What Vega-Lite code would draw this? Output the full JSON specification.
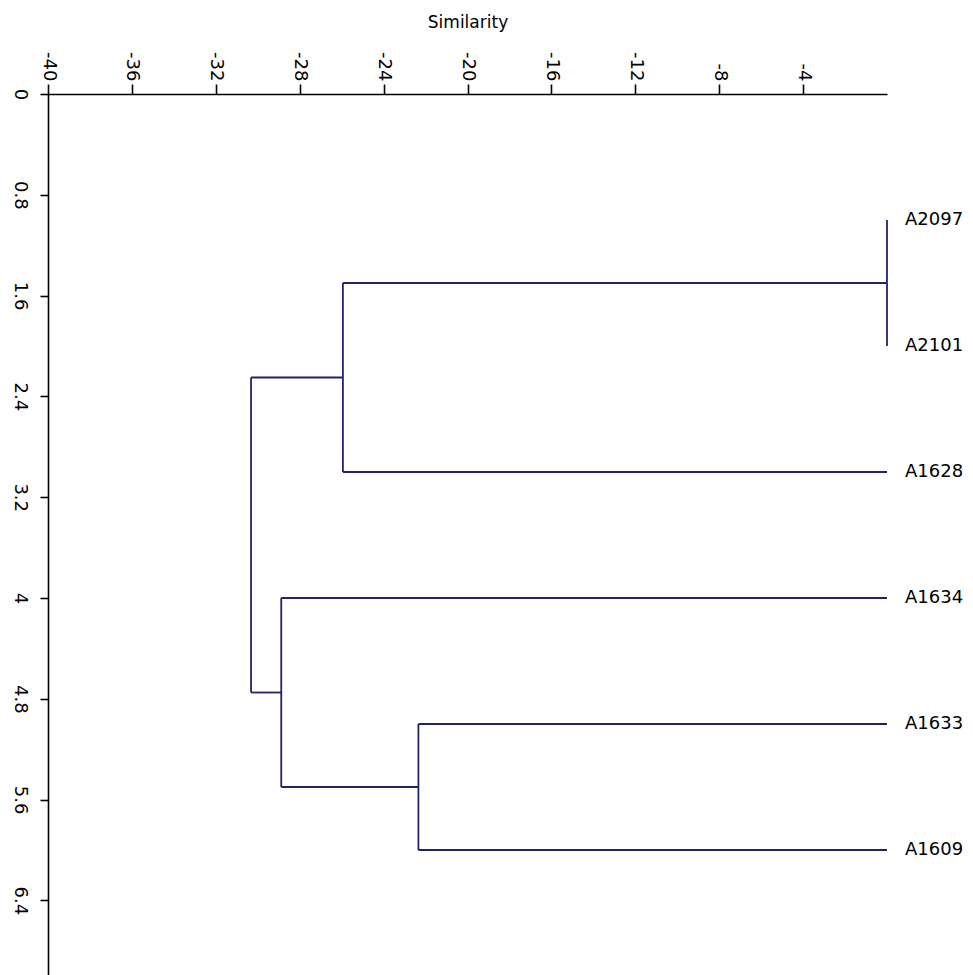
{
  "$schema": "https://vega.github.io/schema/vega-lite/v6.json",
  "autosize": {"type": "none"},
  "width": 839,
  "height": 882,
  "padding": {"left": 48, "top": 94, "right": 86, "bottom": 0},
  "background": "white",
  "config": {
    "view": {"stroke": null},
    "font": "DejaVu Sans",
    "axis": {"grid": false, "domainColor": "#000000", "tickColor": "#000000", "labelColor": "#000000", "titleColor": "#000000", "labelFont": "DejaVu Sans", "titleFont": "DejaVu Sans"}
  },
  "datasets": {
    "segments": [
      {"x1": 0, "x2": 0, "y1": 1, "y2": 2},
      {"x1": 0, "x2": -25.94, "y1": 1.5, "y2": 1.5},
      {"x1": 0, "x2": -25.94, "y1": 3, "y2": 3},
      {"x1": -25.94, "x2": -25.94, "y1": 1.5, "y2": 3},
      {"x1": -25.94, "x2": -30.32, "y1": 2.25, "y2": 2.25},
      {"x1": 0, "x2": -28.88, "y1": 4, "y2": 4},
      {"x1": 0, "x2": -22.34, "y1": 5, "y2": 5},
      {"x1": 0, "x2": -22.34, "y1": 6, "y2": 6},
      {"x1": -22.34, "x2": -22.34, "y1": 5, "y2": 6},
      {"x1": -22.34, "x2": -28.88, "y1": 5.5, "y2": 5.5},
      {"x1": -28.88, "x2": -28.88, "y1": 4, "y2": 5.5},
      {"x1": -28.88, "x2": -30.32, "y1": 4.75, "y2": 4.75},
      {"x1": -30.32, "x2": -30.32, "y1": 2.25, "y2": 4.75}
    ],
    "leaves": [
      {"name": "A2097", "x": 0, "y": 1},
      {"name": "A2101", "x": 0, "y": 2},
      {"name": "A1628", "x": 0, "y": 3},
      {"name": "A1634", "x": 0, "y": 4},
      {"name": "A1633", "x": 0, "y": 5},
      {"name": "A1609", "x": 0, "y": 6}
    ]
  },
  "layer": [
    {
      "data": {"name": "segments"},
      "mark": {"type": "rule", "color": "#22226a", "strokeWidth": 1.8},
      "encoding": {
        "x": {
          "field": "x1", "type": "quantitative",
          "scale": {"domain": [-40, 0], "nice": false, "zero": false},
          "axis": {
            "orient": "top", "title": "Similarity", "titleFontSize": 17, "titleFontWeight": "normal", "titlePadding": 20,
            "values": [-40, -36, -32, -28, -24, -20, -16, -12, -8, -4],
            "labelExpr": "datum.value < 0 ? '-' + abs(datum.value) : datum.label",
            "labelAngle": 90, "labelAlign": "right", "labelBaseline": "middle",
            "labelFontSize": 18, "labelPadding": 3, "tickSize": 10, "domainWidth": 1.6, "tickWidth": 1.6
          }
        },
        "x2": {"field": "x2"},
        "y": {
          "field": "y1", "type": "quantitative",
          "scale": {"domain": [0, 7], "nice": false, "zero": false, "reverse": true},
          "axis": {
            "orient": "left", "title": null,
            "values": [0, 0.8, 1.6, 2.4, 3.2, 4, 4.8, 5.6, 6.4],
            "format": ".1~f",
            "labelAngle": 90, "labelAlign": "center", "labelBaseline": "top",
            "labelFontSize": 18, "labelPadding": 12, "tickSize": 8, "domainWidth": 1.6, "tickWidth": 1.6
          }
        },
        "y2": {"field": "y2"}
      }
    },
    {
      "data": {"name": "leaves"},
      "mark": {"type": "text", "align": "left", "baseline": "middle", "dx": 18, "fontSize": 18, "font": "DejaVu Sans", "color": "#000000"},
      "encoding": {
        "x": {"field": "x", "type": "quantitative"},
        "y": {"field": "y", "type": "quantitative"},
        "text": {"field": "name", "type": "nominal"}
      }
    }
  ]
}
